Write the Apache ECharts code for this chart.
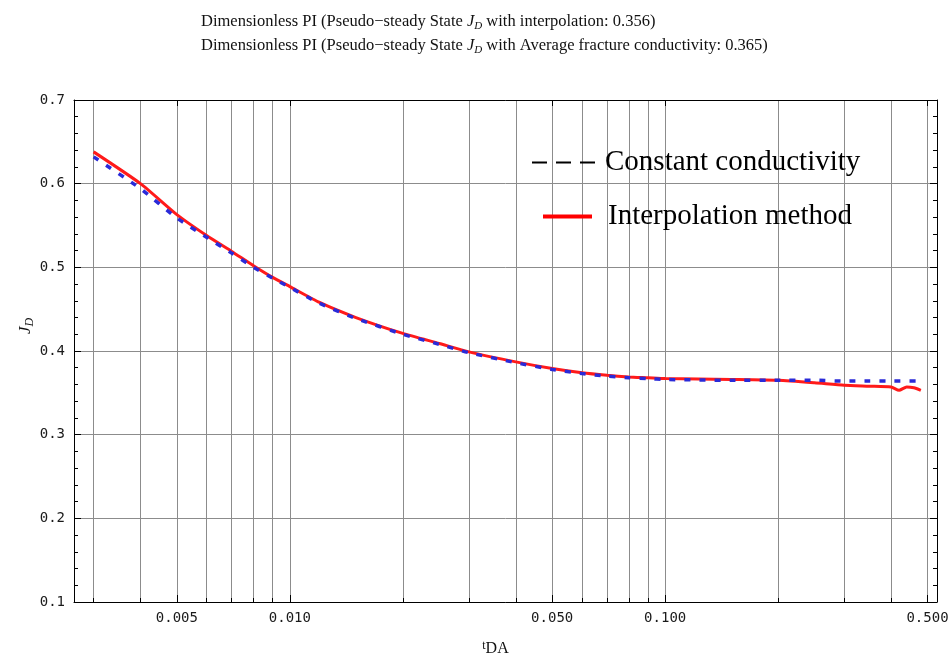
<!DOCTYPE html>
<html>
<head>
<meta charset="utf-8">
<script src="https://cdn.jsdelivr.net/npm/echarts@6/dist/echarts.min.js"></script>
<style>
html,body{margin:0;padding:0;background:#fff;}
#chart{width:949px;height:662px;}
</style>
</head>
<body>
<div id="chart"></div>
<script>
// ---- data ----
const tInterp = [0.003, 0.004, 0.005, 0.006, 0.007, 0.008, 0.009, 0.01, 0.012, 0.015, 0.02, 0.025, 0.03, 0.04, 0.05, 0.06, 0.07, 0.08, 0.09, 0.1, 0.15, 0.2, 0.25, 0.3, 0.35, 0.4, 0.42, 0.44, 0.46, 0.48];
const jdInterp = [0.638, 0.600, 0.563, 0.538, 0.519, 0.502, 0.488, 0.477, 0.458, 0.440, 0.421, 0.409, 0.399, 0.387, 0.379, 0.374, 0.371, 0.369, 0.368, 0.367, 0.366, 0.365, 0.362, 0.359, 0.358, 0.357, 0.353, 0.357, 0.356, 0.353];
const tConst = [0.003, 0.004, 0.005, 0.006, 0.007, 0.008, 0.009, 0.01, 0.012, 0.015, 0.02, 0.025, 0.03, 0.04, 0.05, 0.06, 0.07, 0.08, 0.09, 0.1, 0.15, 0.2, 0.25, 0.3, 0.35, 0.4, 0.47];
const jdConst = [0.632, 0.594, 0.559, 0.536, 0.517, 0.500, 0.487, 0.476, 0.457, 0.439, 0.420, 0.408, 0.398, 0.386, 0.378, 0.373, 0.370, 0.368, 0.367, 0.366, 0.365, 0.365, 0.365, 0.364, 0.364, 0.364, 0.364];
const xGridValues = [0.003, 0.004, 0.005, 0.006, 0.007, 0.008, 0.009, 0.01, 0.02, 0.03, 0.04, 0.05, 0.06, 0.07, 0.08, 0.09, 0.1, 0.2, 0.3, 0.4, 0.5];
const xTickLabels = [0.005, 0.01, 0.05, 0.1, 0.5];
const yTickLabels = [0.1, 0.2, 0.3, 0.4, 0.5, 0.6, 0.7];
const yMinorTicks = [0.12, 0.14, 0.16, 0.18, 0.22, 0.24, 0.26, 0.28, 0.32, 0.34, 0.36, 0.38, 0.42, 0.44, 0.46, 0.48, 0.52, 0.54, 0.56, 0.58, 0.62, 0.64, 0.66, 0.68];
const seriesNames = ['Interpolation method', 'Constant conductivity'];
const titleLines = [
  'Dimensionless PI (Pseudo\u2212steady State {i|J}{s|D} with interpolation: 0.356)',
  'Dimensionless PI (Pseudo\u2212steady State {i|J}{s|D} with Average fracture conductivity: 0.365)'
];

const X_MIN = 0.00266, X_MAX = 0.53, Y_MIN = 0.1, Y_MAX = 0.7;
const gridBox = {left: 74, right: 12, top: 100, bottom: 60, outerBoundsMode: 'none'};
const frame = {show: true, lineStyle: {color: '#000', width: 1}};
const lblFont = {fontFamily: 'DejaVu Sans Mono', fontSize: 14, color: '#1a1a1a'};

const chart = echarts.init(document.getElementById('chart'), null, {renderer: 'canvas'});

const xBase = {type: 'log', logBase: 10, min: X_MIN, max: X_MAX, nameMoveOverlap: false};
const yBase = {type: 'value', min: Y_MIN, max: Y_MAX, nameMoveOverlap: false};

chart.setOption({
  animation: false,
  backgroundColor: '#fff',
  title: {
    text: titleLines.join('\n'),
    left: 201, top: 10, padding: 0, textAlign: 'left',
    textStyle: {
      fontFamily: 'Liberation Serif', fontSize: 16.5, fontWeight: 'normal', color: '#111', lineHeight: 24,
      rich: {
        i: {fontFamily: 'Liberation Serif', fontStyle: 'italic', fontSize: 16.5, color: '#111'},
        s: {fontFamily: 'Liberation Serif', fontStyle: 'italic', fontSize: 11, color: '#111', padding: [8, 0, 0, 0]}
      }
    }
  },
  legend: [
    {
      data: [{name: seriesNames[1], icon: 'path://M0,0H15V2H0ZM24,0H39V2H24ZM48,0H63V2H48Z', itemStyle: {color: '#000', borderWidth: 0}}],
      left: 532, top: 148, padding: 0, itemWidth: 63, itemHeight: 2, selectedMode: false,
      textStyle: {fontFamily: 'Liberation Serif', fontSize: 29, color: '#000', padding: [0, 0, 0, 5]}
    },
    {
      data: [{name: seriesNames[0], icon: 'rect', itemStyle: {color: '#ff0000', borderWidth: 0}}],
      left: 543, top: 202, padding: 0, itemWidth: 49, itemHeight: 4, selectedMode: false,
      textStyle: {fontFamily: 'Liberation Serif', fontSize: 29, color: '#000', padding: [0, 0, 0, 11]}
    }
  ],
  grid: [Object.assign({}, gridBox), Object.assign({}, gridBox)],
  xAxis: [
    Object.assign({}, xBase, {
      gridIndex: 0, position: 'bottom',
      axisLine: frame,
      axisTick: {show: true, inside: true, length: 4, customValues: xGridValues, lineStyle: {color: '#000'}},
      axisLabel: {show: true, margin: 9, customValues: xTickLabels, formatter: v => Number(v).toFixed(3), ...lblFont},
      splitLine: {show: true, lineStyle: {color: '#8c8c8c', width: 1}},
      name: '{t|t}{d|DA}', nameLocation: 'middle', nameGap: 38,
      nameTextStyle: {fontFamily: 'Liberation Serif', color: '#111', padding: [0, 20, 0, 0], rich: {
        t: {fontFamily: 'Liberation Serif', fontSize: 12, color: '#111', padding: [0, 0, 6, 0]},
        d: {fontFamily: 'Liberation Serif', fontSize: 16, color: '#111'}
      }}
    }),
    Object.assign({}, xBase, {
      gridIndex: 0, position: 'top',
      axisLine: frame,
      axisTick: {show: true, inside: true, length: 6, customValues: xTickLabels, lineStyle: {color: '#000'}},
      axisLabel: {show: false}, splitLine: {show: false}
    }),
    Object.assign({}, xBase, {
      gridIndex: 1, position: 'bottom',
      axisLine: {show: false},
      axisTick: {show: true, inside: true, length: 7, customValues: xTickLabels, lineStyle: {color: '#000'}},
      axisLabel: {show: false}, splitLine: {show: false}
    })
  ],
  yAxis: [
    Object.assign({}, yBase, {
      gridIndex: 0, position: 'left',
      axisLine: frame,
      axisTick: {show: true, inside: true, length: 7, customValues: yTickLabels, lineStyle: {color: '#000'}},
      axisLabel: {show: true, margin: 9, customValues: yTickLabels, formatter: v => Number(v).toFixed(1), ...lblFont},
      splitLine: {show: true, lineStyle: {color: '#8c8c8c', width: 1}},
      name: '{i|J}{s|D}', nameLocation: 'middle', nameGap: 38, nameRotate: 90,
      nameTextStyle: {fontFamily: 'Liberation Serif', color: '#111', padding: [0, 0, 0, 50], rich: {
        i: {fontFamily: 'Liberation Serif', fontStyle: 'italic', fontSize: 17, color: '#111'},
        s: {fontFamily: 'Liberation Serif', fontStyle: 'italic', fontSize: 12, color: '#111', padding: [8, 0, 0, 0]}
      }}
    }),
    Object.assign({}, yBase, {
      gridIndex: 0, position: 'right',
      axisLine: frame,
      axisTick: {show: true, inside: true, length: 7, customValues: yTickLabels, lineStyle: {color: '#000'}},
      axisLabel: {show: false}, splitLine: {show: false}
    }),
    Object.assign({}, yBase, {
      gridIndex: 1, position: 'left',
      axisLine: {show: false},
      axisTick: {show: true, inside: true, length: 4, customValues: yMinorTicks, lineStyle: {color: '#000'}},
      axisLabel: {show: false}, splitLine: {show: false}
    }),
    Object.assign({}, yBase, {
      gridIndex: 1, position: 'right',
      axisLine: {show: false},
      axisTick: {show: true, inside: true, length: 4, customValues: yMinorTicks, lineStyle: {color: '#000'}},
      axisLabel: {show: false}, splitLine: {show: false}
    })
  ],
  series: [
    {
      name: seriesNames[0], type: 'line', xAxisIndex: 0, yAxisIndex: 0,
      data: tInterp.map((t, i) => [t, jdInterp[i]]),
      showSymbol: false, symbol: 'none', smooth: 0.2, z: 3,
      itemStyle: {color: '#ff1a1a'},
      lineStyle: {color: '#ff1a1a', width: 3}
    },
    {
      name: seriesNames[1], type: 'line', xAxisIndex: 0, yAxisIndex: 0,
      data: tConst.map((t, i) => [t, jdConst[i]]),
      showSymbol: false, symbol: 'none', smooth: 0.2, z: 4,
      itemStyle: {color: '#2a2ad8'},
      lineStyle: {color: '#2a2ad8', width: 3.5, type: [6, 9]}
    }
  ]
});
</script>
</body>
</html>
